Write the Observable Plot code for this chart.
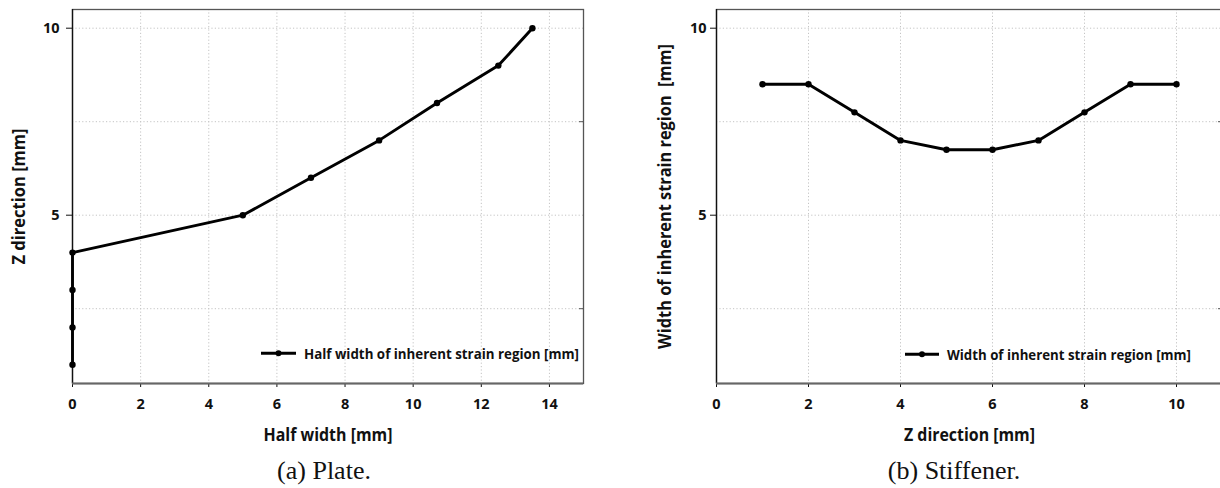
<!DOCTYPE html>
<html><head><meta charset="utf-8">
<script src="https://cdn.jsdelivr.net/npm/d3@7"></script>
<script src="https://cdn.jsdelivr.net/npm/@observablehq/plot@0.6"></script>
<style>
html,body{margin:0;padding:0;background:#fff;overflow:hidden}
#wrap{position:relative;width:1220px;height:488px;overflow:hidden;background:#fff}
.panel{position:absolute;top:0}
.cap{position:absolute;top:458px;font-family:"Liberation Serif","Times New Roman",serif;font-size:26px;line-height:26px;color:#111;transform:translateX(-50%);white-space:nowrap}
.legend{position:absolute;left:0;top:0;pointer-events:none}
.panel g[aria-label$="tick label"]{font-size:14.5px;font-weight:700}
</style></head><body><div id="wrap"></div>
<script>
// ---- data ----
const plateZ = [1, 2, 3, 4, 5, 6, 7, 8, 9, 10];
const plateHalfWidth = [0, 0, 0, 0, 5, 7, 9, 10.7, 12.5, 13.5];
const stiffZ = [1, 2, 3, 4, 5, 6, 7, 8, 9, 10];
const stiffWidth = [8.5, 8.5, 7.75, 7, 6.75, 6.75, 7, 7.75, 8.5, 8.5];
const plateXTicks = [0, 2, 4, 6, 8, 10, 12, 14];
const stiffXTicks = [0, 2, 4, 6, 8, 10];
const yTicks = [5, 10];
const yMinorTicks = [2.5, 7.5];
const yGrid = [2.5, 5, 7.5, 10];
const plateLegend = "Half width of inherent strain region [mm]";
const stiffLegend = "Width of inherent strain region [mm]";

const FONT = "'Open Sans', 'Noto Sans', sans-serif";
const wrap = document.getElementById("wrap");

function panel(o) {
  const data = o.xs.map((x, i) => ({x, y: o.ys[i]}));
  const grid = {stroke: "#c4c4c4", strokeOpacity: 1, strokeDasharray: "1.2,2.2", strokeWidth: 1};
  const svg = Plot.plot({
    width: o.width, height: 488,
    marginLeft: o.marginLeft, marginRight: o.marginRight, marginTop: 9, marginBottom: 105,
    x: {domain: o.xDomain},
    y: {domain: [0.5, 10.5]},
    style: {fontFamily: FONT, fontWeight: 700, color: "#111", background: "transparent", overflow: "visible"},
    marks: [
      Plot.gridX(o.xTicks, grid),
      Plot.gridY(yGrid, grid),
      Plot.frame({stroke: "#555", strokeWidth: 1.3}),
      Plot.axisX(o.xTicks, {tickSize: 4, tickPadding: 11, fontSize: 14, fontWeight: 700, label: o.xLabel, labelAnchor: "center", labelOffset: 57, labelArrow: "none", tickFormat: d => String(d)}),
      Plot.axisY(yTicks, {tickSize: 6, tickPadding: o.yTickPadding, fontSize: 14, fontWeight: 700, label: o.yLabel, labelAnchor: "center", labelOffset: o.yLabelOffset, labelArrow: "none", tickFormat: d => String(d)}),
      Plot.axisY(yMinorTicks, {anchor: "right", tickSize: -5, tickFormat: () => "", label: null, stroke: "#555"}),
      Plot.ruleX([o.xDomain[0]], {stroke: "#111", strokeWidth: 1.3}),
      Plot.ruleY([0.5], {stroke: "#666", strokeWidth: 1.8}),
      Plot.line(data, {x: "x", y: "y", stroke: "#000", strokeWidth: 2.9}),
      Plot.dot(data, {x: "x", y: "y", r: 3.2, fill: "#000"})
    ]
  });
  svg.classList.add("panel");
  svg.style.left = o.left + "px";
  svg.querySelectorAll('g[aria-label="x-axis label"] text, g[aria-label="y-axis label"] text').forEach(t => {
    t.setAttribute("font-size", 17);
    t.setAttribute("font-weight", 700);
    t.style.whiteSpace = "pre";
  });
  svg.querySelectorAll('g[aria-label$="tick label"]').forEach(g => {
    g.setAttribute("font-size", 14.5);
    g.setAttribute("font-weight", 700);
  });
  const xl = svg.querySelector('g[aria-label="x-axis label"] text');
  const yl = svg.querySelector('g[aria-label="y-axis label"] text');
  if (xl) { xl.setAttribute("textLength", o.xLabelLen); xl.setAttribute("lengthAdjust", "spacingAndGlyphs"); }
  if (yl) { yl.setAttribute("textLength", o.yLabelLen); yl.setAttribute("lengthAdjust", "spacingAndGlyphs"); }
  wrap.appendChild(svg);
  return svg;
}

panel({xs: plateHalfWidth, ys: plateZ, xDomain: [0, 15], xTicks: plateXTicks,
  xLabel: "Half width [mm]", yLabel: "Z direction [mm]",
  width: 600, left: 0, marginLeft: 72, marginRight: 17, yTickPadding: 7, yLabelOffset: 60,
  xLabelLen: 129, yLabelLen: 136});

panel({xs: stiffZ, ys: stiffWidth, xDomain: [0, 11], xTicks: stiffXTicks,
  xLabel: "Z direction [mm]", yLabel: "Width of inherent strain region  [mm]",
  width: 622, left: 600, marginLeft: 116, marginRight: 0, yTickPadding: 4, yLabelOffset: 58,
  xLabelLen: 131, yLabelLen: 305});

// ---- legends ----
const lg = d3.select(wrap).append("svg").attr("class", "legend").attr("width", 1220).attr("height", 488);
function legend(x0, x1, y, tx, text, len) {
  lg.append("line").attr("x1", x0).attr("x2", x1).attr("y1", y).attr("y2", y).attr("stroke", "#000").attr("stroke-width", 2.9);
  lg.append("circle").attr("cx", (x0 + x1) / 2).attr("cy", y).attr("r", 3).attr("fill", "#000");
  lg.append("text").attr("x", tx).attr("y", y + 5.3).attr("font-family", FONT).attr("font-weight", 700)
    .attr("font-size", 14.5).attr("fill", "#111").attr("textLength", len).attr("lengthAdjust", "spacingAndGlyphs").text(text);
}
legend(261, 296, 353.3, 304, plateLegend, 275);
legend(905, 939, 354.3, 947, stiffLegend, 244);

// ---- captions ----
for (const [x, t] of [[324, "(a) Plate."], [954, "(b) Stiffener."]]) {
  const d = document.createElement("div");
  d.className = "cap"; d.style.left = x + "px"; d.textContent = t;
  wrap.appendChild(d);
}
</script></body></html>
